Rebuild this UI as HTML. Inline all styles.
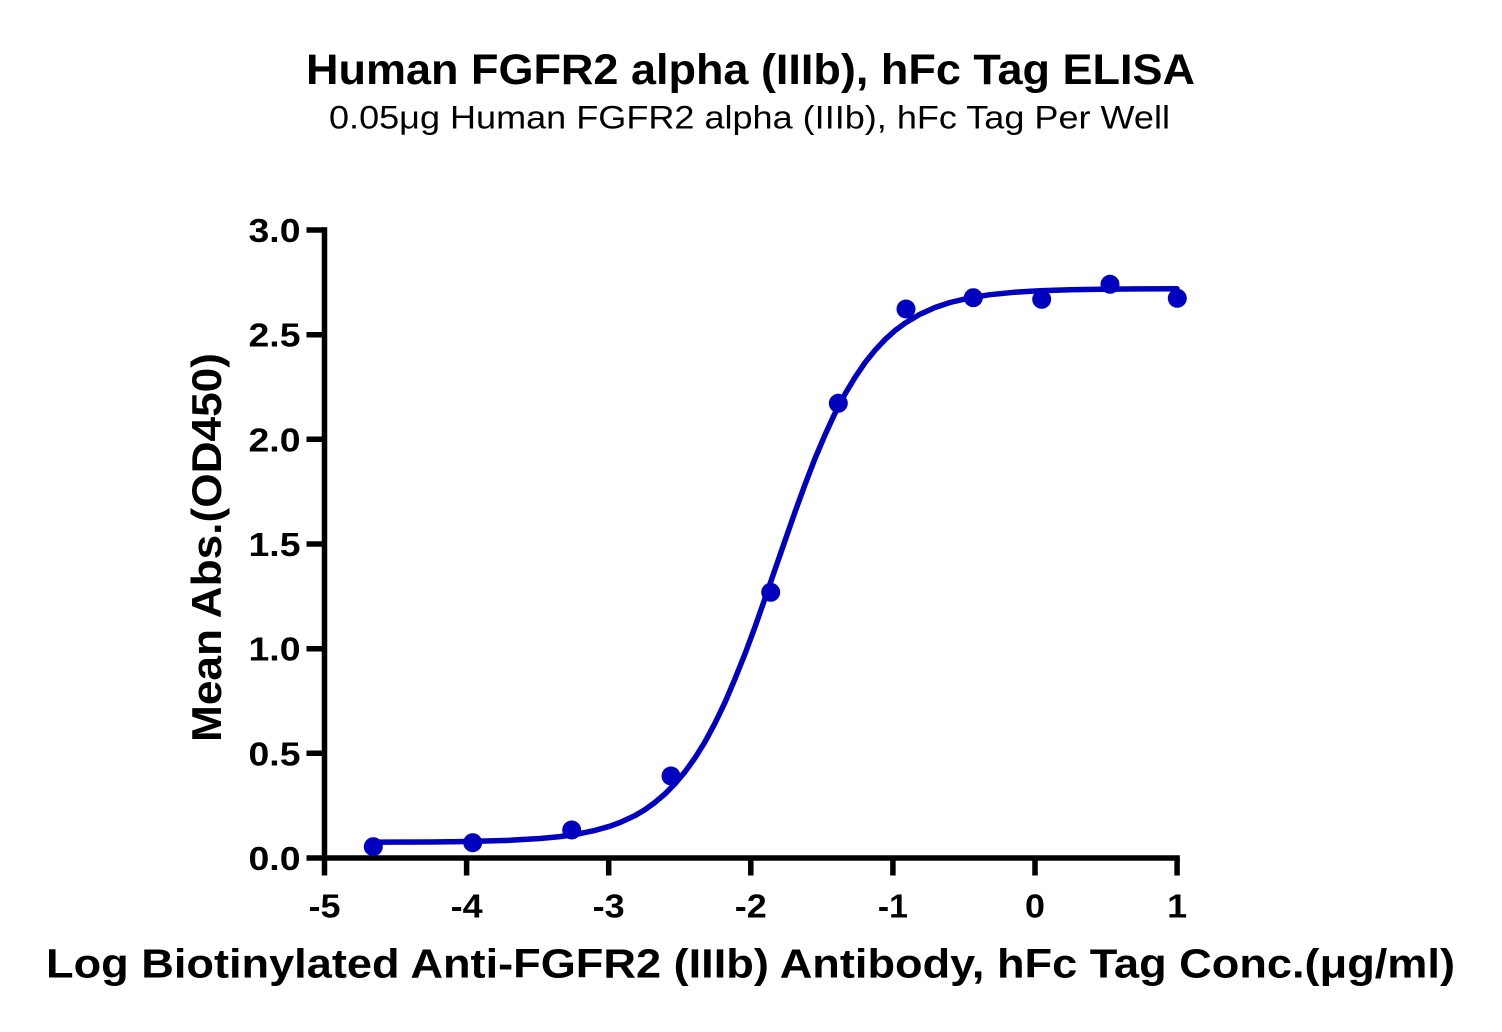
<!DOCTYPE html>
<html>
<head>
<meta charset="utf-8">
<style>
  html, body { margin: 0; padding: 0; background: #ffffff; }
  body { width: 1502px; height: 1032px; overflow: hidden; }
  svg { display: block; }
  text { font-family: "Liberation Sans", Arial, sans-serif; fill: #000; }
</style>
</head>
<body>
<svg width="1502" height="1032" viewBox="0 0 1502 1032" xmlns="http://www.w3.org/2000/svg">
  <rect x="0" y="0" width="1502" height="1032" fill="#ffffff"/>

  <!-- Titles -->
  <text x="750.5" y="84" font-size="43" font-weight="bold" text-anchor="middle" textLength="889" lengthAdjust="spacingAndGlyphs">Human FGFR2 alpha (IIIb), hFc Tag ELISA</text>
  <text x="749.5" y="128.5" font-size="32" text-anchor="middle" textLength="841" lengthAdjust="spacingAndGlyphs">0.05μg Human FGFR2 alpha (IIIb), hFc Tag Per Well</text>

  <!-- Axes -->
  <g stroke="#000" stroke-width="5.5" fill="none" stroke-linecap="butt">
    <!-- y axis -->
    <line x1="324.5" y1="227.3" x2="324.5" y2="875.5"/>
    <!-- x axis -->
    <line x1="321.8" y1="858" x2="1179.8" y2="858"/>
    <!-- y ticks -->
    <line x1="306.5" y1="858" x2="324.5" y2="858"/>
    <line x1="306.5" y1="753.3" x2="324.5" y2="753.3"/>
    <line x1="306.5" y1="648.7" x2="324.5" y2="648.7"/>
    <line x1="306.5" y1="544" x2="324.5" y2="544"/>
    <line x1="306.5" y1="439.3" x2="324.5" y2="439.3"/>
    <line x1="306.5" y1="334.7" x2="324.5" y2="334.7"/>
    <line x1="306.5" y1="230" x2="324.5" y2="230"/>
    <!-- x ticks -->
    <line x1="466.6" y1="858" x2="466.6" y2="875.5"/>
    <line x1="608.7" y1="858" x2="608.7" y2="875.5"/>
    <line x1="750.8" y1="858" x2="750.8" y2="875.5"/>
    <line x1="892.9" y1="858" x2="892.9" y2="875.5"/>
    <line x1="1035" y1="858" x2="1035" y2="875.5"/>
    <line x1="1177.1" y1="858" x2="1177.1" y2="875.5"/>
  </g>

  <!-- Y tick labels -->
  <g font-size="33.5" font-weight="bold" text-anchor="end">
    <text x="300.5" y="870" textLength="52" lengthAdjust="spacingAndGlyphs">0.0</text>
    <text x="300.5" y="765.3" textLength="52" lengthAdjust="spacingAndGlyphs">0.5</text>
    <text x="300.5" y="660.7" textLength="52" lengthAdjust="spacingAndGlyphs">1.0</text>
    <text x="300.5" y="556" textLength="52" lengthAdjust="spacingAndGlyphs">1.5</text>
    <text x="300.5" y="451.3" textLength="52" lengthAdjust="spacingAndGlyphs">2.0</text>
    <text x="300.5" y="346.7" textLength="52" lengthAdjust="spacingAndGlyphs">2.5</text>
    <text x="300.5" y="242" textLength="52" lengthAdjust="spacingAndGlyphs">3.0</text>
  </g>

  <!-- X tick labels -->
  <g font-size="33" font-weight="bold" text-anchor="middle">
    <text x="324.5" y="917.5" textLength="32" lengthAdjust="spacingAndGlyphs">-5</text>
    <text x="466.6" y="917.5" textLength="32" lengthAdjust="spacingAndGlyphs">-4</text>
    <text x="608.7" y="917.5" textLength="32" lengthAdjust="spacingAndGlyphs">-3</text>
    <text x="750.8" y="917.5" textLength="32" lengthAdjust="spacingAndGlyphs">-2</text>
    <text x="892.9" y="917.5" textLength="30" lengthAdjust="spacingAndGlyphs">-1</text>
    <text x="1035" y="917.5" textLength="20" lengthAdjust="spacingAndGlyphs">0</text>
    <text x="1177.1" y="917.5" textLength="20" lengthAdjust="spacingAndGlyphs">1</text>
  </g>

  <!-- Axis titles -->
  <text x="750.5" y="977.5" font-size="41" font-weight="bold" text-anchor="middle" textLength="1409" lengthAdjust="spacingAndGlyphs">Log Biotinylated Anti-FGFR2 (IIIb) Antibody, hFc Tag Conc.(μg/ml)</text>
  <text transform="translate(221,547.5) rotate(-90)" x="0" y="0" font-size="42" font-weight="bold" text-anchor="middle" textLength="389" lengthAdjust="spacingAndGlyphs">Mean Abs.(OD450)</text>

  <!-- Fitted curve -->
  <polyline fill="none" stroke="#0000BE" stroke-width="5.5" stroke-linejoin="round" stroke-linecap="round"
    points="373,842.1 430,842.0 460,841.6 490,840.9 510,840.3 540,838.5 560,836.6 580,833.6 595,830.4 610,826.2 620,822.5 635,815.6 645,809.6 655,802.4 665,793.9 675,783.7 685,771.8 695,757.9 705,741.8 715,723.2 725,702.3 735,678.8 745,653.9 755,626.9 765,598.4 775,569.5 785,540.7 795,512.0 805,484.6 815,458.5 825,434.9 835,413.2 845,394.1 855,377.4 865,362.7 875,350.3 885,339.6 895,330.6 905,323.2 920,314.2 935,307.5 950,302.5 970,297.8 990,294.7 1015,292.2 1040,290.7 1070,289.7 1100,289.2 1140,288.9 1177,288.7"/>

  <!-- Data points -->
  <g fill="#0000BE">
    <circle cx="373.3" cy="846.7" r="9.5"/>
    <circle cx="472.7" cy="842.7" r="9.5"/>
    <circle cx="571.7" cy="830" r="9.5"/>
    <circle cx="671" cy="776" r="9.5"/>
    <circle cx="770.7" cy="592.3" r="9.5"/>
    <circle cx="838.3" cy="403.3" r="9.5"/>
    <circle cx="906" cy="309" r="9.5"/>
    <circle cx="973.3" cy="297.7" r="9.5"/>
    <circle cx="1041.7" cy="299.3" r="9.5"/>
    <circle cx="1110" cy="284.3" r="9.5"/>
    <circle cx="1177.3" cy="298.3" r="9.5"/>
  </g>
</svg>
</body>
</html>
